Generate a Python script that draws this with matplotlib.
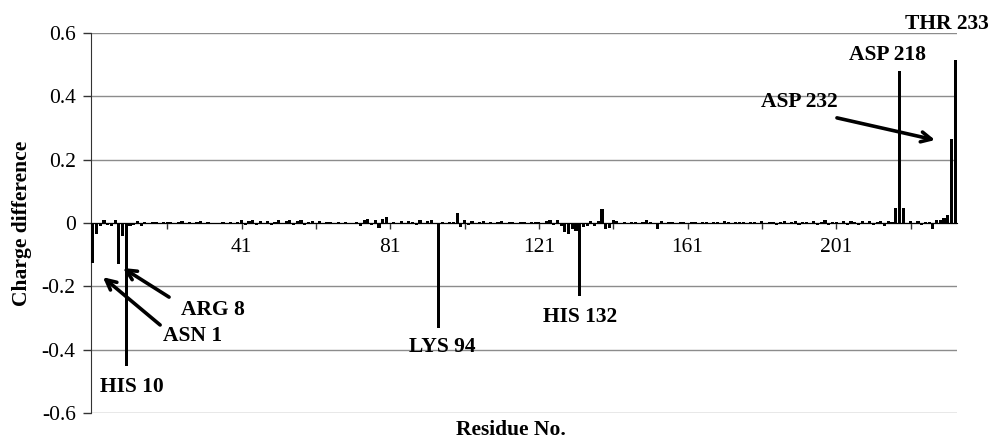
import numpy as np
import matplotlib
matplotlib.use('Agg')
import matplotlib.pyplot as plt

# charge difference per residue, rows of ten (1-10, 11-20, ...)
charge_diff = [
    -0.125, -0.035, -0.01, 0.008, -0.005, -0.008, 0.01, -0.13, -0.04, -0.45,
    -0.008, -0.005, 0.005, -0.01, 0.003, -0.003, 0.002, 0.004, -0.002, 0.003,
    0.003, 0.004, -0.004, 0.003, 0.005, -0.003, 0.004, -0.004, 0.002, 0.005,
    -0.002, 0.002, -0.002, 0.001, -0.001, 0.002, -0.003, 0.004, -0.002, 0.003,
    0.008, -0.006, 0.005, 0.009, -0.005, 0.006, -0.004, 0.007, -0.007, 0.004,
    0.008, -0.004, 0.006, 0.009, -0.006, 0.005, 0.01, -0.005, 0.004, 0.005,
    -0.004, 0.006, -0.003, 0.004, 0.002, -0.002, 0.003, -0.002, 0.002, 0.001,
    -0.002, 0.004, -0.008, 0.01, 0.013, -0.006, 0.008, -0.015, 0.012, 0.02,
    -0.004, 0.004, -0.004, 0.006, -0.003, 0.005, 0.003, -0.005, 0.008, -0.004,
    0.006, 0.01, -0.003, -0.33, 0.003, -0.002, 0.004, 0.002, 0.03, -0.012,
    0.008, -0.005, 0.006, -0.004, 0.003, 0.005, -0.003, 0.004, -0.002, 0.003,
    0.005, -0.004, 0.002, 0.004, -0.003, 0.003, 0.002, -0.002, 0.004, 0.003,
    0.003, -0.004, 0.006, 0.008, -0.005, 0.01, -0.008, -0.03, -0.035, -0.02,
    -0.025, -0.23, -0.012, -0.008, 0.005, -0.01, 0.006, 0.045, -0.02, -0.015,
    0.008, 0.005, -0.003, 0.004, -0.002, 0.003, 0.002, -0.003, 0.002, 0.008,
    0.004, -0.003, -0.02, 0.005, -0.003, 0.004, 0.002, -0.002, 0.003, 0.002,
    -0.003, 0.004, 0.002, -0.002, 0.003, 0.004, -0.003, 0.002, 0.003, -0.004,
    0.005, 0.003, -0.003, 0.004, 0.002, 0.003, -0.004, 0.004, 0.002, -0.003,
    0.005, -0.002, 0.003, 0.002, -0.005, 0.004, 0.006, -0.004, 0.003, 0.005,
    -0.006, 0.004, 0.002, -0.003, 0.006, -0.005, 0.003, 0.008, -0.006, 0.004,
    0.003, -0.004, 0.007, -0.005, 0.006, 0.004, -0.006, 0.005, -0.003, 0.007,
    -0.005, 0.004, 0.006, -0.008, 0.005, 0.003, 0.048, 0.48, 0.048, -0.004,
    0.005, -0.003, 0.006, -0.005, 0.004, 0.003, -0.02, 0.008, 0.01, 0.015,
    0.025, 0.265, 0.515,
]
residues = np.arange(1, len(charge_diff) + 1)

y_ticks = [0.6, 0.4, 0.2, 0, -0.2, -0.4, -0.6]
y_tick_labels = ['0.6', '0.4', '0.2', '0', '-0.2', '-0.4', '-0.6']
x_major = [41, 81, 121, 161, 201]
x_minor = [21, 61, 101, 141, 181, 221]

# (label, text position, arrow tail, arrow tip) in data units
labels = [
    ('ASN 1', (27.7, -0.357), (19.1, -0.322), (3.7, -0.171)),
    ('ARG 8', (33.3, -0.275), (21.5, -0.234), (9.1, -0.142)),
    ('HIS 10', (11.5, -0.518), None, None),
    ('LYS 94', (94.9, -0.392), None, None),
    ('HIS 132', (132.1, -0.297), None, None),
    ('ASP 218', (214.7, 0.530), None, None),
    ('THR 233', (230.8, 0.628), None, None),
    ('ASP 232', (191.2, 0.382), (201.2, 0.332), (227.6, 0.262)),
]

plt.rcParams['font.family'] = ['Liberation Serif', 'DejaVu Serif']
fs = 15.5

fig = plt.figure(figsize=(9.91, 4.4), dpi=100)
ax = fig.add_axes([91 / 991, 1 - 413 / 440, 866 / 991, 380 / 440])

ax.bar(residues, charge_diff, width=0.85, color='black', zorder=3)

ax.set_xlim(0.5, len(charge_diff) + 0.5)
ax.set_ylim(-0.6, 0.6)
ax.set_yticks(y_ticks)
ax.set_yticklabels(y_tick_labels, fontsize=fs)
ax.yaxis.grid(True, color='#8c8c8c', lw=1)
ax.set_axisbelow(True)

ax.spines['top'].set_visible(False)
ax.spines['right'].set_visible(False)
ax.spines['left'].set_color('#333333')
ax.spines['bottom'].set_position(('data', 0))
ax.spines['bottom'].set_color('black')
ax.spines['bottom'].set_zorder(4)

ax.set_xticks(x_major)
ax.set_xticklabels([str(v) for v in x_major], fontsize=fs)
ax.set_xticks(x_minor, minor=True)
ax.tick_params(axis='x', which='both', direction='out', length=4, width=1,
               color='#333333', pad=7)
ax.tick_params(axis='y', direction='out', length=6, width=1,
               color='#333333', pad=5)

for text, pos, tail, tip in labels:
    ax.text(pos[0], pos[1], text, fontsize=fs, fontweight='bold',
            ha='center', va='center', clip_on=False, zorder=5)
    if tail is not None:
        ax.annotate('', xy=tip, xytext=tail,
                    arrowprops=dict(arrowstyle='->', lw=2.6, color='black',
                                    mutation_scale=18, shrinkA=0, shrinkB=0),
                    zorder=5)

ax.text(-0.08, 0.5, 'Charge difference', transform=ax.transAxes,
        rotation=90, ha='center', va='center', fontsize=fs, fontweight='bold')
ax.text(0.485, -0.045, 'Residue No.', transform=ax.transAxes,
        ha='center', va='center', fontsize=fs, fontweight='bold')

fig.savefig('out.png', dpi=100)
